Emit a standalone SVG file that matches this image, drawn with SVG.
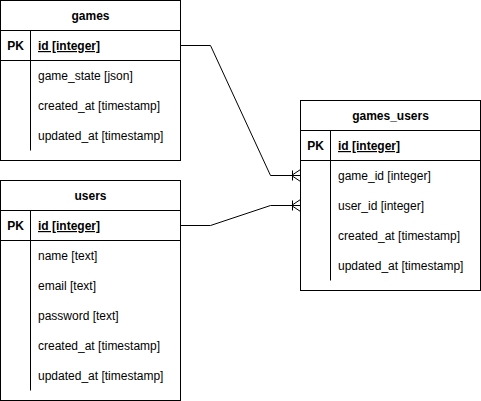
<svg xmlns="http://www.w3.org/2000/svg" width="481" height="401" viewBox="0 0 481 401">
  <style>
    .box { fill: #ffffff; stroke: #000000; stroke-width: 1; }
    .ln { fill: none; stroke: #000000; stroke-width: 1; }
    text { font-family: "Liberation Sans", Arial, Helvetica, sans-serif; font-size: 12px; fill: #000000; }
    .title { font-weight: bold; text-anchor: middle; }
    .pk { font-weight: bold; text-anchor: middle; }
    .key { font-weight: bold; text-decoration: underline; }
  </style>
  <defs>
    <marker id="oneToMany" markerUnits="userSpaceOnUse" markerWidth="12" markerHeight="14" refX="10" refY="7" orient="auto" viewBox="0 0 12 14">
      <path d="M10 1 L1 7 L10 13 M1 7 L10 7 M2 2 L2 12" fill="none" stroke="#000000" stroke-width="1"/>
    </marker>
  </defs>

  <g id="connectors">
    <path class="ln" d="M180.5 45.5 L210.5 45.5 L270.5 175.5 L300.5 175.5" marker-end="url(#oneToMany)"/>
    <path class="ln" d="M180.5 225.5 L210.5 225.5 L270.5 205.5 L300.5 205.5" marker-end="url(#oneToMany)"/>
  </g>

  <g id="games">
    <rect class="box" x="0.5" y="0.5" width="180" height="160"/>
    <line class="ln" x1="0.5" y1="30.5" x2="180.5" y2="30.5"/>
    <line class="ln" x1="0.5" y1="60.5" x2="180.5" y2="60.5"/>
    <line class="ln" x1="30.5" y1="30.5" x2="30.5" y2="150.5"/>
    <text class="title" x="90.5" y="20">games</text>
    <text class="pk" x="15.5" y="50">PK</text>
    <text class="key" x="38" y="50">id [integer]</text>
    <text x="38" y="80">game_state [json]</text>
    <text x="38" y="110">created_at [timestamp]</text>
    <text x="38" y="140">updated_at [timestamp]</text>
  </g>

  <g id="users">
    <rect class="box" x="0.5" y="180.5" width="180" height="220"/>
    <line class="ln" x1="0.5" y1="210.5" x2="180.5" y2="210.5"/>
    <line class="ln" x1="0.5" y1="240.5" x2="180.5" y2="240.5"/>
    <line class="ln" x1="30.5" y1="210.5" x2="30.5" y2="390.5"/>
    <text class="title" x="90.5" y="200">users</text>
    <text class="pk" x="15.5" y="230">PK</text>
    <text class="key" x="38" y="230">id [integer]</text>
    <text x="38" y="260">name [text]</text>
    <text x="38" y="290">email [text]</text>
    <text x="38" y="320">password [text]</text>
    <text x="38" y="350">created_at [timestamp]</text>
    <text x="38" y="380">updated_at [timestamp]</text>
  </g>

  <g id="games_users">
    <rect class="box" x="300.5" y="100.5" width="180" height="190"/>
    <line class="ln" x1="300.5" y1="130.5" x2="480.5" y2="130.5"/>
    <line class="ln" x1="300.5" y1="160.5" x2="480.5" y2="160.5"/>
    <line class="ln" x1="330.5" y1="130.5" x2="330.5" y2="280.5"/>
    <text class="title" x="390.5" y="120">games_users</text>
    <text class="pk" x="315.5" y="150">PK</text>
    <text class="key" x="338" y="150">id [integer]</text>
    <text x="338" y="180">game_id [integer]</text>
    <text x="338" y="210">user_id [integer]</text>
    <text x="338" y="240">created_at [timestamp]</text>
    <text x="338" y="270">updated_at [timestamp]</text>
  </g>
</svg>
